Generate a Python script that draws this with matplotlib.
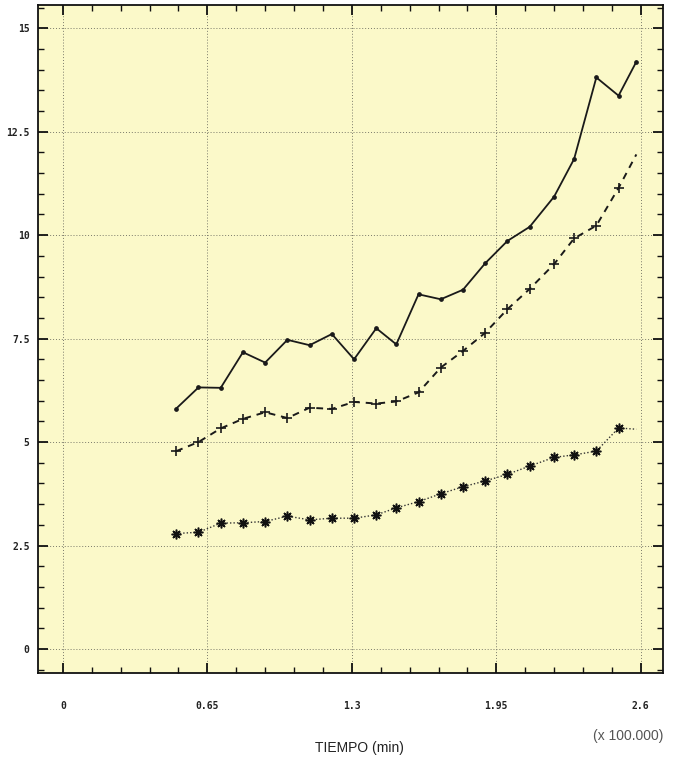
import matplotlib
matplotlib.use("Agg")
import matplotlib.pyplot as plt
from matplotlib.ticker import MultipleLocator, FixedLocator

# tiempo (x 100.000 min)
tiempo = [0.51, 0.61, 0.71, 0.81, 0.91, 1.01, 1.11, 1.21, 1.31, 1.41, 1.50,
          1.60, 1.70, 1.80, 1.90, 2.00, 2.10, 2.21, 2.30, 2.40, 2.50, 2.58]

serie_a = [5.81, 6.32, 6.31, 7.17, 6.92, 7.47, 7.34, 7.61, 7.00, 7.75, 7.36,
           8.57, 8.45, 8.68, 9.32, 9.86, 10.20, 10.93, 11.84, 13.81, 13.37, 14.19]
serie_b = [4.78, 5.00, 5.33, 5.56, 5.72, 5.58, 5.83, 5.80, 5.97, 5.93, 5.98,
           6.20, 6.80, 7.20, 7.64, 8.21, 8.70, 9.30, 9.92, 10.23, 11.14, 11.95]
serie_c = [2.79, 2.82, 3.04, 3.05, 3.08, 3.21, 3.12, 3.16, 3.16, 3.24, 3.41,
           3.56, 3.75, 3.92, 4.06, 4.22, 4.42, 4.63, 4.69, 4.78, 5.34, 5.31]

xticks = [0, 0.65, 1.3, 1.95, 2.6]
xlabels = ["0", "0.65", "1.3", "1.95", "2.6"]
yticks = [0, 2.5, 5, 7.5, 10, 12.5, 15]
ylabels = ["0", "2.5", "5", "7.5", "10", "12.5", "15"]

fig = plt.figure(figsize=(6.74, 7.63), dpi=100)
ax = fig.add_axes([0.0564, 0.118, 0.9273, 0.8754])
ax.set_facecolor("#fbf9c9")

sin_ultimo = list(range(len(tiempo) - 1))
ax.plot(tiempo, serie_a, color="#1a1a1a", lw=1.3, marker="o", ms=2.4)
ax.plot(tiempo, serie_b, color="#1a1a1a", lw=1.4, dashes=(3.5, 3),
        marker="+", ms=7, mew=1.2, markevery=sin_ultimo)
ax.plot(tiempo, serie_c, color="#333333", lw=1.0, ls=(0, (1, 1.5)),
        marker=(8, 2, 0), ms=7, mew=1.1, mec="#111111", markevery=sin_ultimo)
# centro oscuro del asterisco
ax.plot(tiempo[:-1], serie_c[:-1], ls="none", marker="s", ms=2.5,
        color="#111111")

ax.set_xlim(-0.112, 2.70)
ax.set_ylim(-0.58, 15.56)

ax.xaxis.set_major_locator(FixedLocator(xticks))
ax.xaxis.set_minor_locator(MultipleLocator(0.13))
ax.yaxis.set_major_locator(FixedLocator(yticks))
ax.yaxis.set_minor_locator(MultipleLocator(0.5))
ax.set_xticklabels(xlabels)
ax.set_yticklabels(ylabels)

ax.tick_params(which="both", direction="in", top=True, right=True,
               color="#111111")
ax.tick_params(which="major", length=7, width=1.3)
ax.tick_params(which="minor", length=4, width=1.0)
ax.tick_params(axis="x", which="major", pad=20)
ax.tick_params(axis="y", which="major", pad=6)
for lab in ax.get_xticklabels() + ax.get_yticklabels():
    lab.set_fontfamily("DejaVu Sans Mono")
    lab.set_fontweight("bold")
    lab.set_fontsize(7)
    lab.set_color("#222222")

ax.grid(True, which="major", color="#7a7a6a", lw=0.7, ls=(0, (1, 2)))
for s in ax.spines.values():
    s.set_linewidth(1.3)
    s.set_color("#111111")

fig.text(0.534, 0.011, "TIEMPO (min)", ha="center", va="bottom",
         fontsize=10, color="#222222", family="Liberation Sans")
fig.text(0.932, 0.026, "(x 100.000)", ha="center", va="bottom",
         fontsize=10, color="#555555", family="Liberation Sans")

fig.savefig("out.png", dpi=100)
